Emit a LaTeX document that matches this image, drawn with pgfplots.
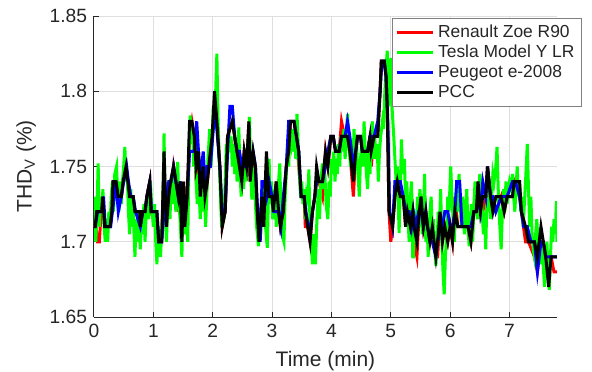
\documentclass[border=0pt]{standalone}
\usepackage{pgfplots}
\pgfplotsset{compat=1.18}
\usepackage{fontspec}
\setmainfont{Liberation Sans}
\definecolor{axgray}{RGB}{38,38,38}
\definecolor{gridgray}{RGB}{223,223,223}
\definecolor{leggray}{RGB}{128,128,128}
\begin{document}
\begin{tikzpicture}
\useasboundingbox (-47bp,-27.5bp) rectangle (249bp,158.5bp);
\begin{axis}[
  at={(0,0)}, anchor=south west,
  scale only axis, width=231.5bp, height=150.5bp,
  xmin=0, xmax=7.8, ymin=1.65, ymax=1.85,
  xtick={0,1,2,3,4,5,6,7},
  ytick={1.65,1.7,1.75,1.8,1.85},
  yticklabels={1.65,1.7,1.75,1.8,1.85},
  axis lines*=left,
  axis line style={-, color=axgray, line width=0.5bp},
  tick align=inside, major tick length=2.5bp,
  tick style={color=axgray, line width=0.5bp},
  grid=major, grid style={color=gridgray, line width=0.5bp},
  /pgf/number format/assume math mode=true,
  ticklabel style={font=\fontsize{9.6bp}{11bp}\selectfont, text=axgray},
  label style={font=\fontsize{10.5bp}{12bp}\selectfont, text=axgray},
  xlabel={Time (min)},
  ylabel={THD\textsubscript{V} (\%)},
  legend image code/.code={\draw[#1] (0bp,0bp) -- (18bp,0bp);},
  legend style={at={(axis description cs:1.054,0.993)}, anchor=north east,
    font=\fontsize{8.7bp}{10.2bp}\selectfont, draw=leggray, line width=0.5bp,
    fill=white, inner xsep=1.5bp, inner ysep=1bp, row sep=-1.6bp,
    legend cell align=left, text=axgray},
  legend cell align=left,
]
\addplot[red, line width=1.5bp] table {
0.00 1.71
0.03 1.71
0.06 1.70
0.09 1.70
0.12 1.72
0.145 1.73
0.18 1.71
0.27 1.71
0.30 1.72
0.32 1.74
0.37 1.74
0.41 1.73
0.46 1.73
0.49 1.74
0.54 1.75
0.57 1.74
0.60 1.73
0.66 1.73
0.69 1.72
0.77 1.72
0.78 1.71
0.82 1.72
0.86 1.72
0.89 1.73
0.94 1.74
0.96 1.72
1.06 1.71
1.09 1.70
1.14 1.70
1.18 1.75
1.22 1.71
1.26 1.73
1.29 1.73
1.34 1.75
1.38 1.74
1.42 1.72
1.45 1.74
1.48 1.70
1.51 1.74
1.53 1.71
1.57 1.73
1.61 1.77
1.65 1.78
1.69 1.77
1.72 1.74
1.76 1.76
1.79 1.73
1.84 1.75
1.87 1.72
1.91 1.74
1.96 1.76
1.99 1.77
2.03 1.79
2.07 1.78
2.12 1.75
2.16 1.71
2.21 1.72
2.25 1.77
2.33 1.78
2.37 1.77
2.41 1.75
2.45 1.75
2.49 1.74
2.53 1.76
2.57 1.75
2.61 1.78
2.63 1.74
2.68 1.76
2.72 1.74
2.75 1.71
2.78 1.70
2.83 1.73
2.86 1.71
2.905 1.75
2.945 1.73
3.00 1.73
3.02 1.72
3.07 1.74
3.11 1.72
3.14 1.71
3.19 1.72
3.24 1.75
3.28 1.76
3.31 1.78
3.37 1.78
3.41 1.77
3.45 1.75
3.49 1.73
3.54 1.73
3.56 1.71
3.60 1.71
3.64 1.70
3.68 1.72
3.72 1.73
3.75 1.74
3.79 1.74
3.85 1.73
3.90 1.76
3.94 1.75
3.99 1.77
4.03 1.77
4.07 1.76
4.13 1.76
4.17 1.78
4.22 1.77
4.27 1.77
4.31 1.76
4.37 1.73
4.41 1.76
4.44 1.77
4.49 1.77
4.52 1.76
4.61 1.76
4.65 1.77
4.67 1.75
4.72 1.77
4.78 1.77
4.82 1.80
4.84 1.82
4.89 1.82
4.92 1.81
4.94 1.79
4.97 1.72
5.00 1.70
5.03 1.71
5.07 1.73
5.11 1.74
5.16 1.73
5.21 1.73
5.25 1.71
5.28 1.72
5.33 1.71
5.37 1.72
5.39 1.70
5.44 1.69
5.48 1.72
5.51 1.73
5.55 1.71
5.59 1.72
5.62 1.70
5.66 1.70
5.70 1.71
5.76 1.69
5.79 1.69
5.83 1.72
5.87 1.70
5.91 1.71
5.96 1.70
6.00 1.71
6.04 1.70
6.08 1.73
6.13 1.71
6.30 1.71
6.35 1.70
6.40 1.72
6.44 1.72
6.47 1.74
6.51 1.72
6.55 1.72
6.60 1.73
6.63 1.75
6.68 1.73
6.72 1.72
6.77 1.72
6.86 1.73
6.91 1.72
6.96 1.73
7.05 1.73
7.08 1.74
7.17 1.73
7.20 1.72
7.27 1.70
7.32 1.70
7.42 1.69
7.47 1.68
7.53 1.70
7.57 1.70
7.61 1.68
7.66 1.68
7.70 1.69
7.75 1.68
7.80 1.68
};
\addlegendentry{Renault Zoe R90}
\addplot[color={rgb,255:red,0;green,255;blue,0}, line width=1.5bp] table {
0.00 1.71
0.02 1.73
0.03 1.70
0.05 1.72
0.07 1.752
0.09 1.71
0.11 1.73
0.13 1.72
0.15 1.735
0.17 1.71
0.19 1.70
0.21 1.715
0.23 1.70
0.25 1.72
0.27 1.71
0.29 1.73
0.31 1.74
0.33 1.72
0.35 1.745
0.38 1.75
0.40 1.73
0.42 1.72
0.44 1.74
0.46 1.725
0.48 1.74
0.50 1.75
0.52 1.763
0.54 1.74
0.56 1.745
0.58 1.72
0.60 1.705
0.62 1.735
0.64 1.71
0.66 1.72
0.69 1.69
0.71 1.715
0.73 1.70
0.75 1.72
0.78 1.695
0.80 1.715
0.82 1.705
0.84 1.725
0.86 1.70
0.88 1.72
0.90 1.73
0.92 1.715
0.95 1.74
0.97 1.725
1.00 1.71
1.02 1.725
1.04 1.70
1.06 1.685
1.08 1.71
1.10 1.70
1.12 1.69
1.14 1.705
1.16 1.72
1.18 1.772
1.20 1.72
1.22 1.70
1.24 1.72
1.26 1.73
1.28 1.715
1.30 1.74
1.32 1.725
1.34 1.745
1.36 1.73
1.38 1.72
1.40 1.74
1.41 1.753
1.43 1.725
1.45 1.715
1.48 1.69
1.50 1.72
1.52 1.705
1.54 1.725
1.56 1.71
1.58 1.70
1.60 1.76
1.62 1.784
1.64 1.765
1.66 1.775
1.68 1.75
1.70 1.765
1.72 1.74
1.74 1.725
1.76 1.745
1.79 1.715
1.81 1.735
1.83 1.72
1.85 1.745
1.88 1.71
1.90 1.73
1.92 1.755
1.95 1.775
1.97 1.75
1.99 1.765
2.01 1.79
2.03 1.775
2.05 1.80
2.07 1.825
2.09 1.78
2.11 1.755
2.13 1.73
2.15 1.71
2.17 1.725
2.19 1.715
2.21 1.74
2.23 1.765
2.25 1.755
2.27 1.775
2.29 1.76
2.31 1.77
2.33 1.75
2.35 1.765
2.37 1.745
2.39 1.76
2.41 1.74
2.44 1.776
2.46 1.745
2.48 1.73
2.50 1.75
2.52 1.735
2.54 1.755
2.56 1.74
2.58 1.76
2.60 1.77
2.62 1.783
2.64 1.745
2.66 1.728
2.68 1.75
2.70 1.74
2.72 1.725
2.74 1.71
2.77 1.697
2.79 1.72
2.81 1.705
2.83 1.73
2.85 1.715
2.87 1.74
2.89 1.71
2.92 1.696
2.94 1.735
2.95 1.755
2.97 1.725
2.99 1.74
3.01 1.715
3.03 1.72
3.05 1.735
3.07 1.71
3.09 1.725
3.11 1.74
3.13 1.752
3.15 1.72
3.17 1.705
3.20 1.70
3.22 1.73
3.24 1.745
3.26 1.76
3.28 1.75
3.30 1.77
3.32 1.765
3.34 1.775
3.36 1.76
3.38 1.77
3.40 1.755
3.42 1.785
3.44 1.765
3.46 1.745
3.48 1.73
3.50 1.74
3.52 1.725
3.54 1.735
3.56 1.715
3.58 1.73
3.60 1.725
3.62 1.748
3.64 1.71
3.66 1.70
3.68 1.685
3.70 1.705
3.73 1.685
3.76 1.72
3.78 1.735
3.80 1.715
3.82 1.74
3.85 1.752
3.87 1.735
3.89 1.745
3.91 1.725
3.94 1.715
3.96 1.74
3.98 1.73
4.00 1.755
4.02 1.745
4.04 1.76
4.06 1.74
4.08 1.755
4.10 1.745
4.12 1.765
4.14 1.75
4.16 1.77
4.19 1.76
4.21 1.775
4.23 1.755
4.25 1.765
4.27 1.785
4.29 1.77
4.32 1.75
4.34 1.765
4.36 1.745
4.38 1.775
4.40 1.76
4.42 1.77
4.44 1.75
4.47 1.73
4.49 1.755
4.51 1.765
4.53 1.75
4.55 1.78
4.57 1.76
4.59 1.745
4.61 1.735
4.63 1.76
4.65 1.745
4.67 1.77
4.69 1.78
4.71 1.755
4.73 1.77
4.75 1.755
4.77 1.765
4.79 1.74
4.81 1.76
4.83 1.77
4.86 1.78
4.88 1.775
4.90 1.80
4.92 1.815
4.94 1.827
4.96 1.79
4.98 1.805
5.00 1.822
5.02 1.79
5.05 1.77
5.07 1.755
5.09 1.74
5.11 1.75
5.14 1.706
5.16 1.735
5.18 1.768
5.20 1.745
5.23 1.755
5.25 1.725
5.27 1.74
5.29 1.715
5.31 1.70
5.33 1.73
5.35 1.74
5.37 1.69
5.38 1.69
5.40 1.72
5.42 1.70
5.45 1.73
5.47 1.71
5.49 1.735
5.51 1.725
5.53 1.705
5.55 1.72
5.57 1.745
5.59 1.70
5.61 1.715
5.63 1.69
5.66 1.72
5.68 1.73
5.70 1.705
5.72 1.715
5.74 1.695
5.76 1.684
5.78 1.70
5.80 1.72
5.82 1.71
5.84 1.735
5.86 1.70
5.88 1.68
5.90 1.665
5.92 1.69
5.94 1.705
5.96 1.73
5.98 1.72
6.01 1.75
6.03 1.73
6.05 1.715
6.07 1.70
6.09 1.72
6.11 1.735
6.13 1.72
6.15 1.745
6.17 1.725
6.19 1.71
6.21 1.73
6.24 1.705
6.26 1.72
6.28 1.735
6.30 1.71
6.32 1.697
6.34 1.715
6.36 1.725
6.38 1.70
6.40 1.725
6.42 1.74
6.44 1.725
6.46 1.715
6.48 1.73
6.50 1.745
6.52 1.73
6.54 1.72
6.56 1.705
6.58 1.72
6.60 1.695
6.62 1.73
6.64 1.72
6.66 1.735
6.68 1.715
6.70 1.73
6.72 1.745
6.74 1.74
6.77 1.75
6.79 1.763
6.81 1.735
6.83 1.715
6.86 1.695
6.88 1.72
6.90 1.735
6.92 1.72
6.94 1.74
6.96 1.725
6.98 1.735
7.00 1.74
7.03 1.735
7.05 1.745
7.07 1.73
7.09 1.72
7.11 1.735
7.13 1.75
7.15 1.73
7.17 1.74
7.19 1.72
7.21 1.73
7.23 1.71
7.25 1.725
7.27 1.74
7.30 1.765
7.32 1.735
7.34 1.71
7.36 1.73
7.38 1.705
7.40 1.695
7.42 1.69
7.44 1.705
7.46 1.715
7.48 1.70
7.50 1.705
7.52 1.685
7.54 1.70
7.56 1.69
7.59 1.67
7.61 1.685
7.63 1.70
7.65 1.68
7.67 1.668
7.69 1.69
7.71 1.71
7.73 1.70
7.75 1.715
7.77 1.705
7.79 1.727
7.80 1.70
};
\addlegendentry{Tesla Model Y LR}
\addplot[blue, line width=1.5bp] table {
0.00 1.71
0.02 1.71
0.06 1.72
0.13 1.72
0.16 1.73
0.19 1.71
0.28 1.71
0.31 1.72
0.34 1.73
0.37 1.74
0.41 1.72
0.46 1.73
0.50 1.74
0.55 1.75
0.58 1.74
0.62 1.73
0.66 1.73
0.70 1.72
0.78 1.71
0.82 1.72
0.86 1.72
0.89 1.73
0.94 1.74
0.97 1.72
1.06 1.72
1.09 1.70
1.14 1.70
1.18 1.72
1.22 1.73
1.26 1.74
1.30 1.74
1.34 1.75
1.38 1.74
1.42 1.73
1.46 1.74
1.49 1.71
1.52 1.72
1.57 1.73
1.61 1.76
1.65 1.76
1.69 1.76
1.73 1.78
1.76 1.76
1.79 1.74
1.84 1.76
1.87 1.74
1.91 1.75
1.96 1.75
2.00 1.77
2.04 1.79
2.08 1.77
2.12 1.75
2.16 1.72
2.21 1.72
2.25 1.76
2.29 1.79
2.33 1.79
2.37 1.77
2.41 1.76
2.45 1.76
2.49 1.75
2.53 1.75
2.57 1.75
2.61 1.76
2.64 1.75
2.68 1.76
2.72 1.75
2.77 1.71
2.80 1.70
2.83 1.74
2.87 1.74
2.91 1.73
2.95 1.74
3.00 1.73
3.03 1.72
3.07 1.72
3.11 1.72
3.15 1.71
3.19 1.73
3.24 1.75
3.28 1.78
3.31 1.78
3.37 1.78
3.41 1.77
3.45 1.76
3.49 1.73
3.54 1.73
3.57 1.72
3.61 1.71
3.65 1.71
3.68 1.72
3.72 1.73
3.75 1.74
3.79 1.74
3.85 1.74
3.90 1.75
3.94 1.76
3.99 1.77
4.03 1.77
4.07 1.76
4.13 1.76
4.17 1.77
4.23 1.77
4.27 1.78
4.31 1.77
4.37 1.75
4.41 1.76
4.44 1.77
4.49 1.77
4.52 1.76
4.61 1.76
4.65 1.77
4.72 1.77
4.78 1.78
4.82 1.80
4.85 1.82
4.89 1.82
4.92 1.81
4.95 1.78
4.98 1.72
5.03 1.71
5.07 1.74
5.11 1.74
5.16 1.74
5.21 1.73
5.25 1.72
5.31 1.72
5.35 1.71
5.38 1.72
5.42 1.71
5.47 1.72
5.51 1.72
5.55 1.71
5.59 1.72
5.62 1.71
5.66 1.70
5.70 1.70
5.76 1.69
5.79 1.70
5.83 1.71
5.87 1.71
5.91 1.72
5.96 1.72
6.00 1.71
6.04 1.71
6.08 1.72
6.11 1.74
6.16 1.74
6.20 1.71
6.30 1.71
6.35 1.71
6.40 1.72
6.44 1.72
6.47 1.73
6.51 1.72
6.55 1.74
6.60 1.73
6.63 1.75
6.68 1.73
6.72 1.73
6.77 1.72
6.86 1.73
6.91 1.73
6.96 1.73
7.05 1.74
7.10 1.74
7.17 1.73
7.20 1.72
7.24 1.71
7.30 1.71
7.36 1.70
7.42 1.70
7.47 1.68
7.53 1.70
7.57 1.70
7.61 1.69
7.66 1.69
7.70 1.69
7.80 1.69
};
\addlegendentry{Peugeot e-2008}
\addplot[black, line width=1.5bp] table {
0.00 1.71
0.02 1.71
0.045 1.72
0.13 1.72
0.145 1.73
0.18 1.71
0.27 1.71
0.30 1.72
0.32 1.74
0.37 1.74
0.41 1.73
0.46 1.73
0.49 1.74
0.54 1.75
0.57 1.74
0.60 1.73
0.66 1.73
0.69 1.72
0.77 1.72
0.78 1.71
0.82 1.72
0.86 1.72
0.89 1.73
0.94 1.74
0.96 1.72
1.06 1.72
1.09 1.70
1.14 1.70
1.18 1.76
1.22 1.71
1.26 1.73
1.29 1.74
1.34 1.75
1.38 1.74
1.42 1.73
1.45 1.74
1.48 1.70
1.51 1.74
1.53 1.71
1.57 1.73
1.61 1.78
1.65 1.78
1.69 1.77
1.72 1.75
1.76 1.76
1.79 1.73
1.84 1.75
1.87 1.73
1.91 1.74
1.96 1.76
1.99 1.77
2.03 1.80
2.07 1.78
2.12 1.75
2.16 1.71
2.21 1.72
2.25 1.77
2.33 1.78
2.37 1.77
2.41 1.76
2.45 1.75
2.49 1.74
2.53 1.76
2.57 1.75
2.61 1.78
2.63 1.74
2.68 1.76
2.72 1.75
2.75 1.72
2.78 1.70
2.83 1.73
2.86 1.71
2.905 1.76
2.945 1.73
3.00 1.73
3.02 1.72
3.07 1.74
3.11 1.72
3.14 1.71
3.19 1.72
3.24 1.75
3.28 1.76
3.31 1.78
3.37 1.78
3.41 1.77
3.45 1.76
3.49 1.73
3.54 1.73
3.56 1.72
3.60 1.71
3.64 1.70
3.68 1.72
3.72 1.73
3.75 1.75
3.79 1.74
3.85 1.74
3.90 1.76
3.94 1.75
3.99 1.77
4.03 1.77
4.07 1.76
4.13 1.76
4.17 1.77
4.27 1.77
4.31 1.76
4.37 1.74
4.41 1.76
4.44 1.77
4.49 1.77
4.52 1.76
4.61 1.76
4.65 1.77
4.67 1.76
4.72 1.77
4.78 1.77
4.82 1.80
4.84 1.82
4.89 1.82
4.92 1.81
4.94 1.79
4.97 1.72
5.03 1.71
5.07 1.73
5.11 1.74
5.16 1.73
5.21 1.73
5.25 1.71
5.28 1.72
5.33 1.71
5.37 1.72
5.39 1.71
5.44 1.70
5.48 1.72
5.51 1.73
5.55 1.71
5.59 1.72
5.62 1.71
5.66 1.70
5.70 1.71
5.76 1.69
5.79 1.70
5.83 1.72
5.87 1.70
5.91 1.71
5.96 1.70
6.00 1.71
6.04 1.70
6.08 1.72
6.13 1.71
6.30 1.71
6.35 1.70
6.40 1.72
6.44 1.72
6.47 1.74
6.51 1.72
6.55 1.73
6.60 1.73
6.63 1.75
6.68 1.73
6.72 1.72
6.77 1.73
6.86 1.73
6.91 1.72
6.96 1.73
7.05 1.73
7.08 1.74
7.17 1.74
7.20 1.72
7.27 1.71
7.32 1.70
7.42 1.70
7.47 1.69
7.53 1.71
7.57 1.70
7.61 1.69
7.66 1.67
7.70 1.69
7.80 1.69
};
\addlegendentry{PCC}
\end{axis}
\end{tikzpicture}
\end{document}
